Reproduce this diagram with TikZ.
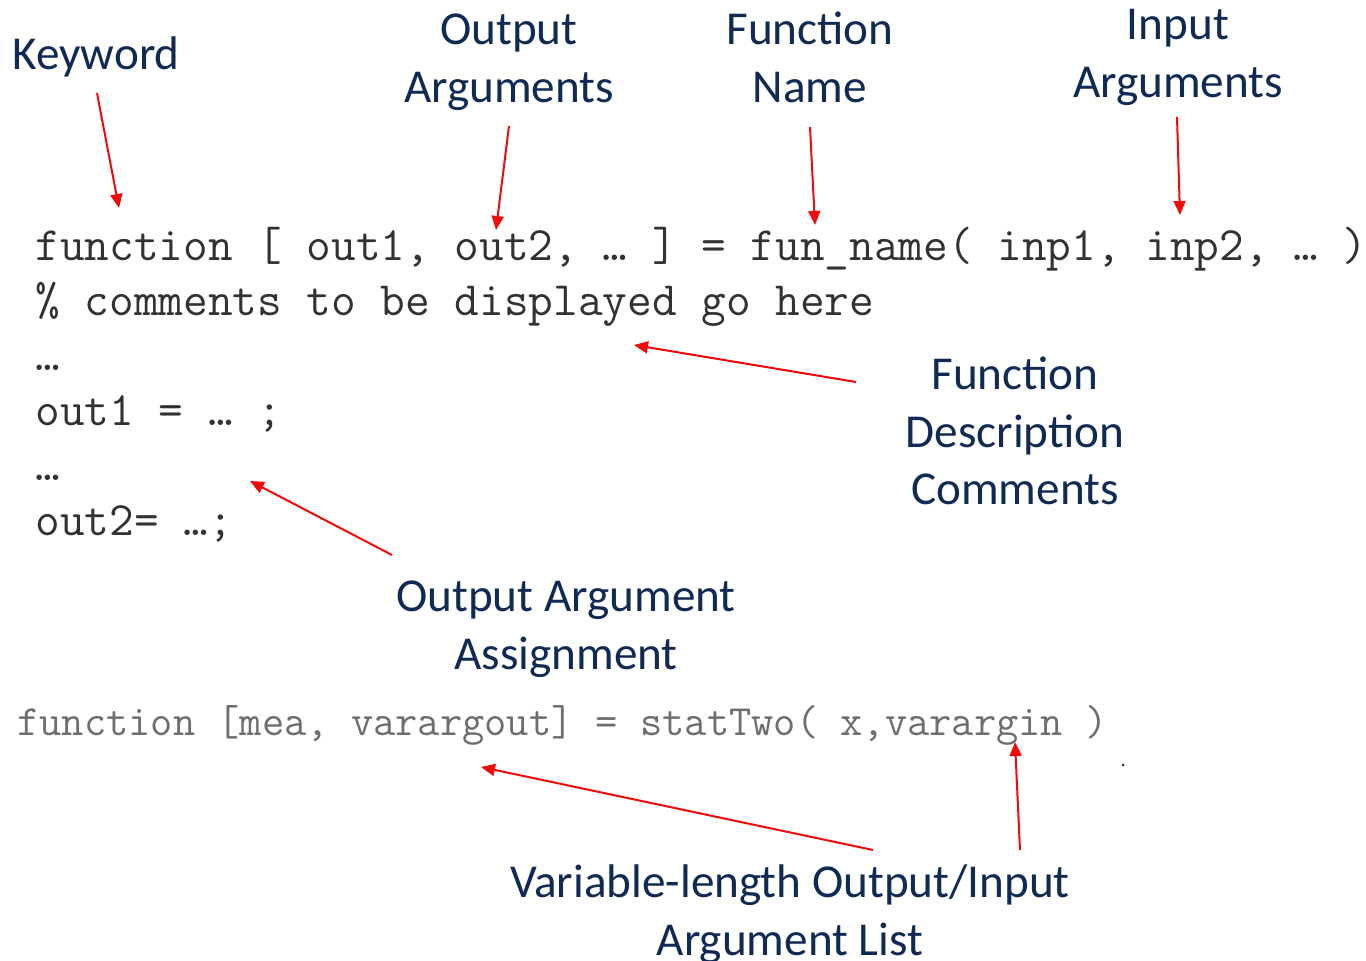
\documentclass[tikz,border=0pt]{standalone}
\usepackage{fontspec}
\setmainfont{Carlito}
\newfontfamily\codefont{Latin Modern Mono}
\usetikzlibrary{arrows.meta}
\definecolor{navy}{RGB}{16,42,84}
\definecolor{codegray}{RGB}{50,50,50}
\definecolor{codelight}{RGB}{110,110,110}
\definecolor{arrowred}{RGB}{240,10,10}
\begin{document}
\begin{tikzpicture}[x=0.5pt,y=-0.5pt,
  lbl/.style={font=\fontsize{23.6}{28.75}\selectfont, text=navy, align=center, inner sep=0pt, anchor=base},
  code/.style={font=\codefont\fontsize{23.95}{27.5}\selectfont, text=codegray, inner sep=0pt, anchor=base west},
  codeb/.style={font=\codefont\fontsize{21.6}{24}\selectfont, text=codelight, inner sep=0pt, anchor=base west},
  pointer/.style={draw=arrowred, line width=1pt, -{Triangle[length=7pt,width=6pt]}}]
\useasboundingbox[fill=white] (0,0) rectangle (1366,961);

% code
\node[code] (l1) at (35,261) {function [ out1, out2, … ] = fun\_name( inp1, inp2, … )};
\node[code] (l2) at (35,316) {\% comments to be displayed go here};
\node[code] (l3) at (35,371) {…};
\node[code] (l4) at (35,426) {out1 = … ;};
\node[code] (l5) at (35,481) {…};
\node[code] (l6) at (35,536) {out2= …;};
\node[codeb] (b1) at (17,736) {function [mea, varargout] = statTwo( x,varargin )};
\fill[black!80] (1123,765) circle (1.5);

% labels (anchored at the baseline of their last line)
\node[lbl] (kw) at (96,70) {Keyword};
\node[lbl] (oa) at (509,102.5) {Output\\Arguments};
\node[lbl] (fn) at (810,102.5) {Function\\Name};
\node[lbl] (ia) at (1178,97.5) {Input\\Arguments};
\node[lbl] (fd) at (1015,505) {Function\\Description\\Comments};
\node[lbl] (oaa) at (566,669.5) {Output Argument\\Assignment};
\node[lbl] (vl) at (790,955.5) {Variable-length Output/Input\\Argument List};

% arrow end points
\coordinate (kwT) at (97,93);   \coordinate (kwH) at (119,208);
\coordinate (oaT) at (509,126); \coordinate (oaH) at (496,230);
\coordinate (fnT) at (810,127); \coordinate (fnH) at (815,225);
\coordinate (iaT) at (1177,117);\coordinate (iaH) at (1180,215);
\coordinate (fdT) at (856,382); \coordinate (fdH) at (634,345);
\coordinate (asT) at (392,555); \coordinate (asH) at (250,481);
\coordinate (v1T) at (873,850); \coordinate (v1H) at (481,767);
\coordinate (v2T) at (1020,850);\coordinate (v2H) at (1015,742);

\draw[pointer] (kwT) -- (kwH);
\draw[pointer] (oaT) -- (oaH);
\draw[pointer] (fnT) -- (fnH);
\draw[pointer] (iaT) -- (iaH);
\draw[pointer] (fdT) -- (fdH);
\draw[pointer] (asT) -- (asH);
\draw[pointer] (v1T) -- (v1H);
\draw[pointer] (v2T) -- (v2H);
\end{tikzpicture}
\end{document}
